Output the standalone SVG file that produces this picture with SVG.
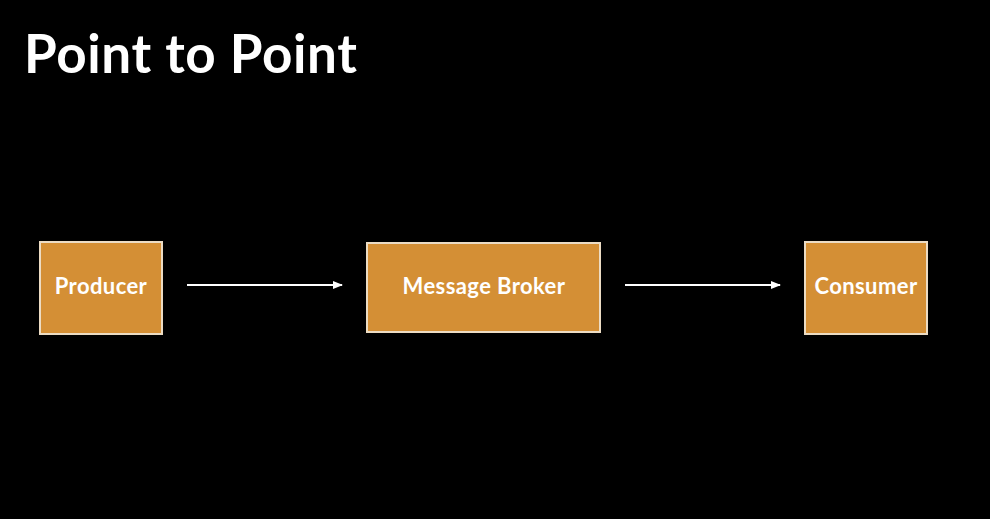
<svg xmlns="http://www.w3.org/2000/svg" width="990" height="519" viewBox="0 0 990 519">
<style>
.box{fill:#d48f35;stroke:#ecdcc4;stroke-width:2}
.lbl{fill:#ffffff;font-family:Lato,"Noto Sans",sans-serif;font-weight:bold;font-size:22px;letter-spacing:0.4px;text-anchor:middle}
.title{fill:#ffffff;font-family:Lato,"Noto Sans",sans-serif;font-weight:bold;font-size:53px;letter-spacing:0.6px}
.edge{stroke:#ffffff;stroke-width:2;fill:none}
</style>
<defs>
<marker id="ah" markerWidth="10" markerHeight="8" refX="9" refY="4" orient="auto" markerUnits="userSpaceOnUse">
<path d="M0,0 L10,4 L0,8 Z" fill="#ffffff"/>
</marker>
</defs>
<rect width="990" height="519" fill="#000000"/>
<text class="title" x="24" y="73">Point to Point</text>
<g id="producer">
<rect class="box" x="40" y="242" width="122" height="92"/>
<text class="lbl" x="101" y="294">Producer</text>
</g>
<g id="broker">
<rect class="box" x="367" y="243" width="233" height="89"/>
<text class="lbl" x="484" y="294">Message Broker</text>
</g>
<g id="consumer">
<rect class="box" x="805" y="242" width="122" height="92"/>
<text class="lbl" x="866" y="294">Consumer</text>
</g>
<g id="connectors">
<line class="edge" x1="187" y1="285" x2="342" y2="285" marker-end="url(#ah)"/>
<line class="edge" x1="625" y1="285" x2="780" y2="285" marker-end="url(#ah)"/>
</g>
</svg>
